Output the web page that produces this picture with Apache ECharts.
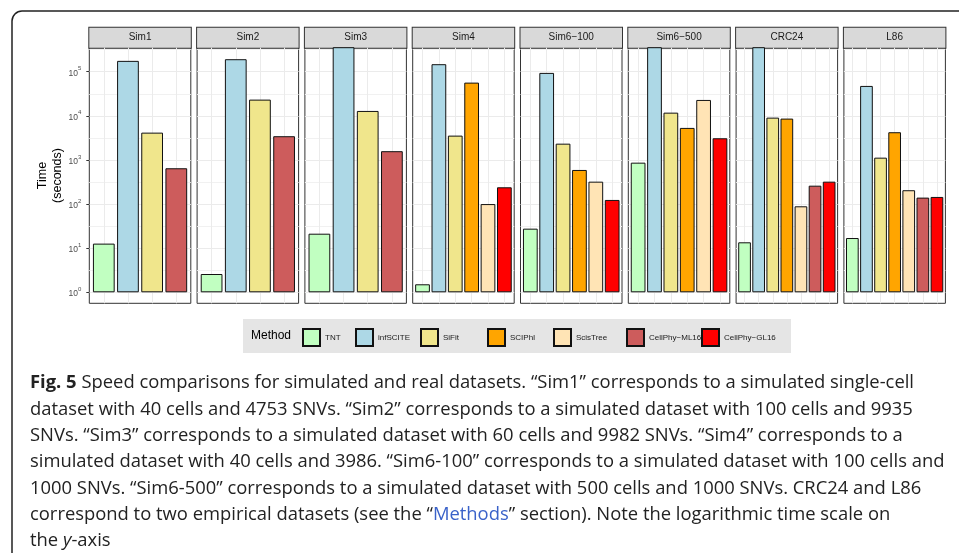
<!DOCTYPE html>
<html>
<head>
<meta charset="utf-8">
<script src="https://cdn.jsdelivr.net/npm/echarts@6/dist/echarts.min.js"></script>
<style>
html,body{margin:0;padding:0;background:#fff;}
#chart{width:959px;height:553px;}
</style>
</head>
<body>
<div id="chart"></div>
<script>
// ---------------- DATA ----------------
const datasets = ['Sim1', 'Sim2', 'Sim3', 'Sim4', 'Sim6\u2212100', 'Sim6\u2212500', 'CRC24', 'L86'];
const methods = ['TNT', 'infSCITE', 'SiFit', 'SCIPhI', 'ScisTree', 'CellPhy\u2212ML16', 'CellPhy\u2212GL16'];
// run time in seconds, one entry per method (null = method not run on that dataset)
const timeSim1    = [12.7, 176000, 4160, null, null, 648, null];
const timeSim2    = [2.6, 192000, 23300, null, null, 3450, null];
const timeSim3    = [21.3, 400000, 12900, null, null, 1580, null];
const timeSim4    = [1.52, 148000, 3560, 56600, 100, null, 240];
const timeSim6100 = [27.7, 94000, 2340, 593, 322, null, 124];
const timeSim6500 = [868, 400000, 11800, 5320, 22900, null, 3100];
const timeCRC24   = [13.6, 400000, 9100, 8650, 89, 261, 322];
const timeL86     = [17, 47600, 1127, 4250, 206, 140, 145];
const timesByDataset = [timeSim1, timeSim2, timeSim3, timeSim4, timeSim6100, timeSim6500, timeCRC24, timeL86];
// y-axis tick labels (powers of ten) and half-decade minor grid positions
const yMajorTicks = [1, 10, 100, 1000, 10000, 100000];
const yMinorTicks = [3.1623, 31.623, 316.23, 3162.3, 31623, 316228];
const yAxisTitle = 'Time\n(seconds)';
const legendTitle = 'Method';
const captionLines = [
  '{b|Fig. 5} Speed comparisons for simulated and real datasets. \u201cSim1\u201d corresponds to a simulated single-cell',
  'dataset with 40 cells and 4753 SNVs. \u201cSim2\u201d corresponds to a simulated dataset with 100 cells and 9935',
  'SNVs. \u201cSim3\u201d corresponds to a simulated dataset with 60 cells and 9982 SNVs. \u201cSim4\u201d corresponds to a',
  'simulated dataset with 40 cells and 3986. \u201cSim6-100\u201d corresponds to a simulated dataset with 100 cells and',
  '1000 SNVs. \u201cSim6-500\u201d corresponds to a simulated dataset with 500 cells and 1000 SNVs. CRC24 and L86',
  'correspond to two empirical datasets (see the \u201c{m|Methods}\u201d section). Note the logarithmic time scale on',
  'the {i|y}-axis'
];

// ---------------- STYLE / LAYOUT ----------------
const methodColors = ['#C1FFC1', '#ADD8E6', '#F0E68C', '#FFA500', '#FFE4B5', '#CD5C5C', '#FF0000'];
const legendKeyLefts = [302, 355, 420, 487, 553, 626, 701];
const FONT = "'Liberation Sans', Arial, Helvetica, sans-serif";
const CAPTION_FONT = "'Open Sans', 'Liberation Sans', sans-serif";
const CAPTION_SIZE = 18.4;
const PANEL_LEFT0 = 89.3, PANEL_STEP = 107.8, PANEL_W = 101.5;
const PANEL_TOP = 47.7, PANEL_H = 255.6;
const Y_MIN = 0.5636, Y_MAX = 350000;

const grids = [], xAxes = [], yAxes = [], series = [];

datasets.forEach((ds, i) => {
  const times = timesByDataset[i];
  const cats = methods.filter((m, k) => times[k] != null);
  const n = cats.length;
  const left = PANEL_LEFT0 + i * PANEL_STEP;
  const unit = PANEL_W / (n + 0.2);
  const frameIdx = grids.length;
  grids.push({left: left, top: PANEL_TOP, width: PANEL_W, height: PANEL_H,
    show: true, backgroundColor: '#ffffff', borderColor: '#333333', borderWidth: 1,
    containLabel: false, outerBoundsMode: 'none'});
  const dataIdx = grids.length;
  grids.push({left: left + 0.1 * unit, top: PANEL_TOP, width: n * unit, height: PANEL_H,
    show: false, containLabel: false, outerBoundsMode: 'none'});

  xAxes.push({type: 'value', gridIndex: frameIdx, min: 0, max: 1, position: 'top',
    name: '{s|' + ds + '}', nameLocation: 'middle', nameGap: 0,
    nameTextStyle: {rich: {s: {width: PANEL_W, height: 20, lineHeight: 20, align: 'center',
      backgroundColor: '#d9d9d9', borderColor: '#333333', borderWidth: 1,
      fontSize: 10, color: '#1a1a1a', fontFamily: FONT}}},
    axisLine: {show: false}, axisTick: {show: false}, axisLabel: {show: false}, splitLine: {show: false}});
  const dx = xAxes.length;
  xAxes.push({type: 'category', gridIndex: dataIdx, data: cats, show: false, boundaryGap: true});

  yAxes.push({type: 'log', gridIndex: frameIdx, min: Y_MIN, max: Y_MAX, position: 'left',
    name: i === 0 ? yAxisTitle : '', nameLocation: 'middle', nameRotate: 90, nameGap: 24,
    nameTextStyle: {fontSize: 12.5, lineHeight: 15, color: '#000000', fontFamily: FONT, align: 'center'},
    axisLine: {show: false},
    axisTick: {show: i === 0, length: 3, lineStyle: {color: '#333333', width: 1}, customValues: yMajorTicks},
    axisLabel: {show: i === 0, customValues: yMajorTicks, margin: 8,
      formatter: v => '{b|10}{s|' + Math.round(Math.log10(v)) + '}',
      rich: {b: {fontSize: 8.5, color: '#4d4d4d', lineHeight: 12, verticalAlign: 'bottom', fontFamily: FONT},
             s: {fontSize: 6, color: '#4d4d4d', lineHeight: 6, verticalAlign: 'top', fontFamily: FONT}}},
    splitLine: {show: true, lineStyle: {color: '#ebebeb', width: 1}}});
  yAxes.push({type: 'log', gridIndex: frameIdx, min: Y_MIN, max: Y_MAX, position: 'right',
    axisLine: {show: false}, axisTick: {show: false, customValues: yMinorTicks},
    axisLabel: {show: false}, splitLine: {show: true, lineStyle: {color: '#f1f1f1', width: 1}}});
  const dy = yAxes.length;
  yAxes.push({type: 'log', gridIndex: dataIdx, min: Y_MIN, max: Y_MAX, show: false});

  // vertical grid lines at category centres
  series.push({type: 'line', xAxisIndex: dx, yAxisIndex: dy, data: [], silent: true, z: 1,
    markLine: {silent: true, symbol: ['none', 'none'], z: 1, animation: false,
      label: {show: false}, lineStyle: {color: '#ebebeb', width: 1, type: 'solid'},
      data: cats.map(c => ({xAxis: c}))}});

  methods.forEach((m, k) => {
    if (times[k] == null) return;
    series.push({type: 'bar', name: m, xAxisIndex: dx, yAxisIndex: dy,
      data: [[m, times[k]]], barGap: '-100%', barCategoryGap: '10%', z: 3, clip: true,
      itemStyle: {color: methodColors[k], borderColor: '#111111', borderWidth: 1}});
  });
});

const legends = methods.map((m, k) => ({
  data: [m], left: legendKeyLefts[k], top: 328, padding: 0, z: 5 + k,
  itemWidth: 17, itemHeight: 17, icon: 'rect', selectedMode: false,
  textStyle: {fontSize: 8, color: '#1a1a1a', fontFamily: FONT}
}));

const option = {
  animation: false,
  backgroundColor: '#ffffff',
  textStyle: {fontFamily: FONT},
  grid: grids, xAxis: xAxes, yAxis: yAxes, series: series,
  legend: legends,
  title: [
    {text: legendTitle, left: 243, top: 319, padding: [10, 500, 10, 8], z: 1,
      backgroundColor: '#e5e5e5',
      textStyle: {fontSize: 12, lineHeight: 14, fontWeight: 'normal', color: '#000000', fontFamily: FONT}},
    {text: captionLines.join('\n'), left: 30, top: 370, padding: 0,
      textStyle: {fontSize: CAPTION_SIZE, lineHeight: 26.3, fontWeight: 'normal', color: '#222222', fontFamily: CAPTION_FONT,
        rich: {b: {fontSize: CAPTION_SIZE, lineHeight: 26.3, fontWeight: 'bold', color: '#222222', fontFamily: CAPTION_FONT},
               m: {fontSize: CAPTION_SIZE, lineHeight: 26.3, color: '#3a62c9', fontFamily: CAPTION_FONT},
               i: {fontSize: CAPTION_SIZE, lineHeight: 26.3, fontStyle: 'italic', color: '#222222', fontFamily: CAPTION_FONT}}}}
  ],
  graphic: [{type: 'rect', silent: true, z: 100,
    shape: {x: 12, y: 11, width: 1000, height: 700, r: 10},
    style: {fill: 'none', stroke: '#222222', lineWidth: 1.5}}]
};

const chart = echarts.init(document.getElementById('chart'), null, {renderer: 'canvas'});
chart.setOption(option);
</script>
</body>
</html>
